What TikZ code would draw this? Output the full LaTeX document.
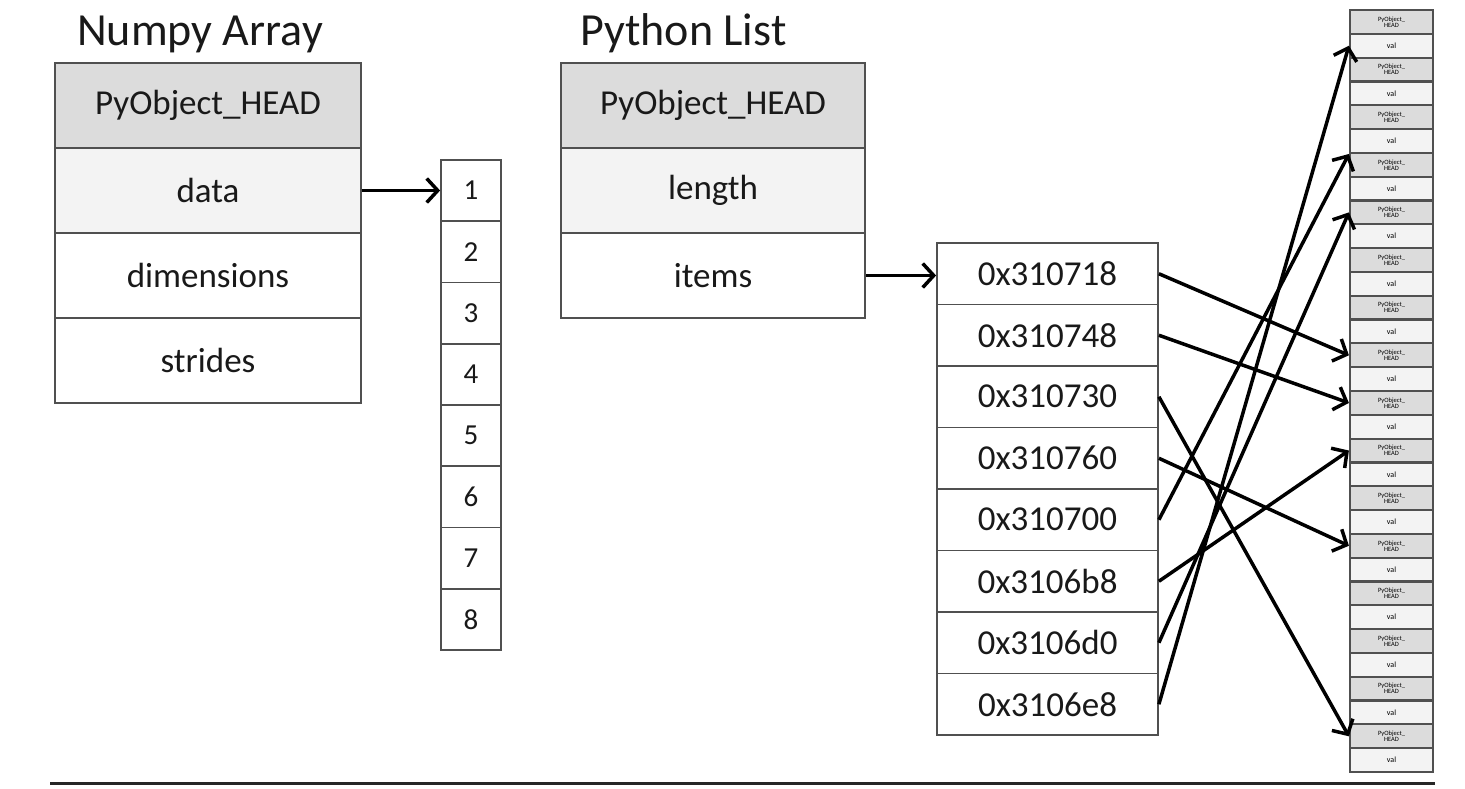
\documentclass[tikz,border=0pt]{standalone}
\usepackage{fontspec}
\setmainfont{Carlito}
\usepackage{tikz}
\usetikzlibrary{arrows.meta}

\definecolor{headgray}{RGB}{220,220,220}
\definecolor{lightgray}{RGB}{243,243,243}
\definecolor{edgegray}{RGB}{80,80,80}
\definecolor{inkgray}{RGB}{25,25,25}

\tikzset{
  field/.style={draw=edgegray, line width=2pt, rectangle, inner sep=0pt, text=inkgray,
    minimum height=85pt, font=\fontsize{35}{40}\selectfont},
  numbox/.style={draw=edgegray, line width=1.8pt, rectangle, inner sep=0pt, text=inkgray,
    minimum width=60pt, minimum height=61.25pt, font=\fontsize{29}{32}\selectfont},
  addrbox/.style={draw=edgegray, line width=1.8pt, rectangle, inner sep=0pt, text=inkgray,
    minimum width=221pt, minimum height=61.5pt, font=\fontsize{35}{40}\selectfont},
  objhead/.style={draw=edgegray, line width=2.2pt, fill=headgray, rectangle, inner sep=0pt,
    minimum width=83pt, minimum height=23.8125pt, align=center,
    font=\fontsize{6.5}{6}\selectfont},
  objval/.style={objhead, fill=lightgray, font=\fontsize{8}{8}\selectfont},
  title/.style={anchor=base west, inner sep=0pt, text=inkgray, font=\fontsize{46}{50}\selectfont},
  ptr/.style={-{Straight Barb[length=11pt,width=24pt,line width=3.5pt]}, line width=3.5pt}
}

\begin{document}
\begin{tikzpicture}[x=1pt,y=-1pt]
  \useasboundingbox (0,0) rectangle (1465,788);

  % numpy array header
  \node[title] (nptitle) at (77,45) {Numpy Array};
  \node[field, minimum width=306pt, fill=headgray] (nphead) at (208,105) {PyObject\_HEAD};
  \node[field, minimum width=306pt, fill=lightgray] (data) at (208,190.5) {data};
  \node[field, minimum width=306pt] (dims) at (208,275.5) {dimensions};
  \node[field, minimum width=306pt] (strides) at (208,360.5) {strides};

  % the raw data buffer
  \foreach \n in {1,...,8}
    \node[numbox] (n\n) at (471,{160+61.25*(\n-0.5)}) {\n};
  \draw[ptr] (data.east) -- (data.east -| n1.west);

  % python list header
  \node[title] (pltitle) at (580,45) {Python List};
  \node[field, minimum width=304pt, fill=headgray] (plhead) at (713,105) {PyObject\_HEAD};
  \node[field, minimum width=304pt, fill=lightgray] (length) at (713,190.5) {length};
  \node[field, minimum width=304pt] (items) at (713,275.5) {items};

  % pointer array
  \foreach \a [count=\k] in {0x310718,0x310748,0x310730,0x310760,0x310700,0x3106b8,0x3106d0,0x3106e8}
    \node[addrbox] (a\k) at (1047.5,{243+61.5*(\k-0.5)}) {\a};
  \draw[ptr] (items.east) -- (items.east -| a1.west);

  % objects scattered in memory
  \foreach \i in {1,...,32}{
    \ifodd\i
      \node[objhead] (c\i) at (1391.5,{10+23.8125*(\i-0.5)}) {PyObject\_\\HEAD};
    \else
      \node[objval] (c\i) at (1391.5,{10+23.8125*(\i-0.5)}) {val};
    \fi
  }

  \draw[ptr] (a1.east) -- (c15.west);
  \draw[ptr] (a2.east) -- (c17.west);
  \draw[ptr] (a3.east) -- (c31.west);
  \draw[ptr] (a4.east) -- (c23.west);
  \draw[ptr] (a5.east) -- (c6.south west);
  \draw[ptr] (a6.east) -- (c19.west);
  \draw[ptr] (a7.east) -- (c9.west);
  \draw[ptr] (a8.east) -- (c2.west);

  \draw[line width=3pt, black!85] (50,783) -- (1435,783);
\end{tikzpicture}
\end{document}
